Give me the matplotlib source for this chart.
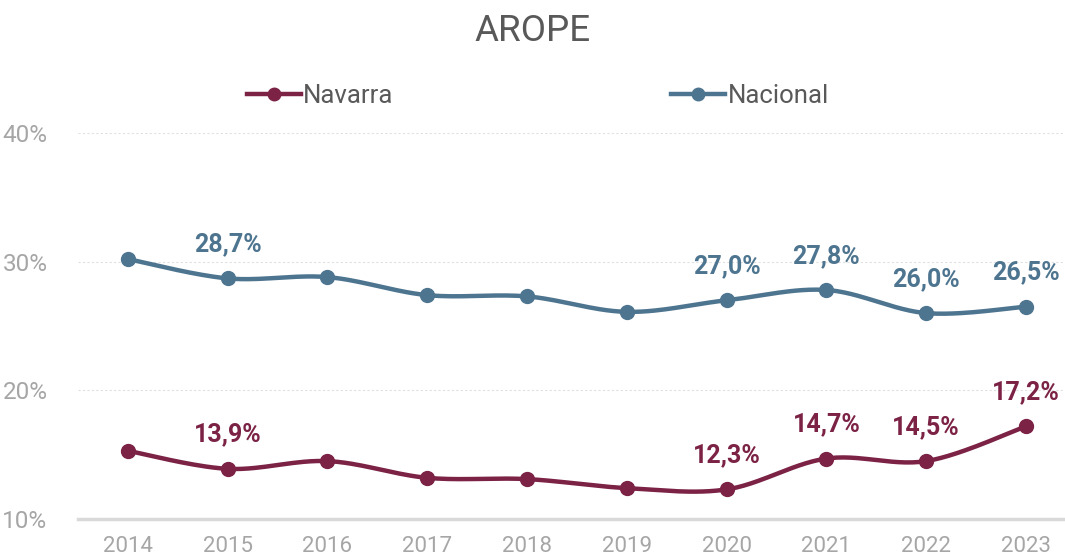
import numpy as np
import matplotlib.pyplot as plt

plt.rcParams['font.family'] = ['Roboto', 'DejaVu Sans']

years = ['2014', '2015', '2016', '2017', '2018', '2019', '2020', '2021', '2022', '2023']
navarra = [15.3, 13.9, 14.5, 13.2, 13.1, 12.4, 12.3, 14.7, 14.5, 17.2]
nacional = [30.2, 28.7, 28.8, 27.4, 27.3, 26.1, 27.0, 27.8, 26.0, 26.5]
labelled = [1, 6, 7, 8, 9]

c_nav = '#7B2245'
c_nac = '#4E7590'


def smooth(x, y, n=30):
    # Catmull-Rom style curve through the points (like Excel smoothed lines)
    x = np.asarray(x, float)
    y = np.asarray(y, float)
    px = np.concatenate([[x[0]], x, [x[-1]]])
    py = np.concatenate([[y[0]], y, [y[-1]]])
    xs, ys = [], []
    for i in range(1, len(px) - 2):
        p0 = np.array([px[i - 1], py[i - 1]])
        p1 = np.array([px[i], py[i]])
        p2 = np.array([px[i + 1], py[i + 1]])
        p3 = np.array([px[i + 2], py[i + 2]])
        c1 = p1 + (p2 - p0) / 6
        c2 = p2 - (p3 - p1) / 6
        t = np.linspace(0, 1, n)[:, None]
        b = (1 - t) ** 3 * p1 + 3 * (1 - t) ** 2 * t * c1 + 3 * (1 - t) * t ** 2 * c2 + t ** 3 * p2
        xs.extend(b[:, 0])
        ys.extend(b[:, 1])
    return xs, ys


fig = plt.figure(figsize=(10.65, 5.59), dpi=100)
ax = fig.add_axes([78 / 1065, 40 / 559, 1 - 78 / 1065, 386 / 559])

x = np.arange(len(years))
for vals, col, name in [(navarra, c_nav, 'Navarra'), (nacional, c_nac, 'Nacional')]:
    sx, sy = smooth(x, vals)
    ax.plot(sx, sy, color=col, lw=3.2, solid_capstyle='round', zorder=3)
    ax.plot(x, vals, 'o', color=col, ms=10, zorder=4)
    ax.plot([], [], '-o', color=col, lw=3.2, ms=9, label=name)
    for i in labelled:
        ax.annotate(f'{vals[i]:.1f}%'.replace('.', ','), (x[i], vals[i]),
                    xytext=(0, 16), textcoords='offset points', ha='center', va='bottom',
                    fontsize=18, fontweight='bold', color=col)

ax.set_xlim(-0.5, 9.39)
ax.set_ylim(10, 40)
ax.set_yticks([10, 20, 30, 40])
ax.set_yticklabels(['10%', '20%', '30%', '40%'])
ax.set_xticks(x)
ax.set_xticklabels(years)
ax.tick_params(axis='both', length=0, labelsize=16, labelcolor='#A6A6A6')
ax.tick_params(axis='y', pad=22, labelsize=17.5)
ax.tick_params(axis='x', pad=12)
ax.grid(axis='y', color='#E0E0E0', lw=0.8, ls=(0, (2, 2)))
for s in ['top', 'right', 'left']:
    ax.spines[s].set_visible(False)
ax.spines['bottom'].set_color('#D9D9D9')
ax.spines['bottom'].set_linewidth(2.5)
ax.set_axisbelow(True)

fig.text(0.5, 0.945, 'AROPE', ha='center', va='center', fontsize=26.5, color='#595959')
fig.legend(loc='center', bbox_to_anchor=(0.505, 0.828), ncol=2, frameon=False,
           fontsize=18.5, labelcolor='#595959', handlelength=2.1, handletextpad=0.1,
           columnspacing=10.8)

fig.savefig('out.png', dpi=100)
